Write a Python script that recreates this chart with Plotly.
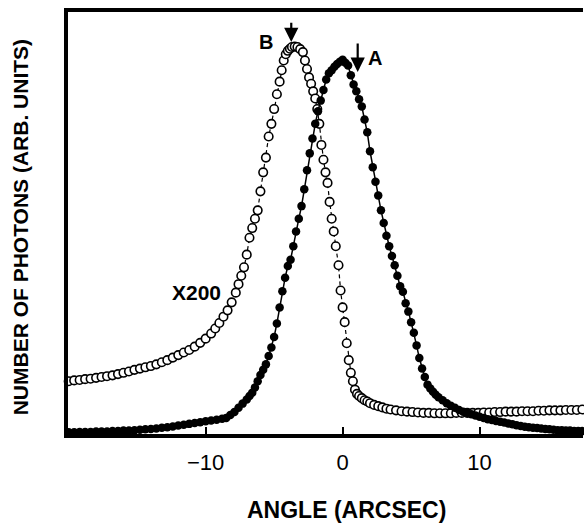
import plotly.graph_objects as go

# Curve B (open circles, dashed line, scaled X200)
b_x = [-20.0, -19.6, -19.2, -18.8, -18.4, -18.0, -17.6, -17.2, -16.8, -16.4, -16.0, -15.6, -15.2,
       -14.8, -14.4, -14.0, -13.6, -13.2, -12.8, -12.4, -12.0, -11.6, -11.2, -10.8, -10.4, -10.0,
       -9.6, -9.3, -9.0, -8.7, -8.4, -8.1, -7.8, -7.6, -7.4, -7.2, -7.0, -6.8, -6.6, -6.4, -6.2,
       -6.0, -5.8, -5.6, -5.4, -5.2, -5.0, -4.8, -4.6, -4.45, -4.3, -4.15, -4.0, -3.85, -3.7, -3.5,
       -3.3, -3.1, -2.9, -2.75, -2.6, -2.45, -2.3, -2.15, -2.0, -1.85, -1.7, -1.55, -1.4, -1.25,
       -1.1, -0.95, -0.8, -0.65, -0.5, -0.3, -0.15, 0.0, 0.15, 0.3, 0.45, 0.6, 0.75, 0.9, 1.05,
       1.2, 1.4, 1.6, 1.8, 2.0, 2.3, 2.6, 2.9, 3.2, 3.5, 3.9, 4.3, 4.7, 5.1, 5.5, 5.9, 6.3, 6.7,
       7.1, 7.5, 7.9, 8.3, 8.7, 9.1, 9.5, 9.9, 10.3, 10.7, 11.1, 11.5, 11.9, 12.3, 12.7, 13.1,
       13.5, 13.9, 14.3, 14.7, 15.1, 15.5, 15.9, 16.3, 16.7, 17.1, 17.5]
b_y = [0.125, 0.127, 0.128, 0.130, 0.131, 0.133, 0.135, 0.137, 0.139, 0.142, 0.145, 0.148, 0.152,
       0.155, 0.158, 0.161, 0.165, 0.170, 0.175, 0.181, 0.187, 0.193, 0.199, 0.207, 0.216, 0.226,
       0.238, 0.250, 0.263, 0.278, 0.293, 0.312, 0.335, 0.355, 0.375, 0.395, 0.425, 0.465, 0.488,
       0.510, 0.530, 0.575, 0.620, 0.655, 0.705, 0.735, 0.770, 0.805, 0.835, 0.862, 0.885, 0.900,
       0.908, 0.913, 0.917, 0.918, 0.917, 0.912, 0.905, 0.885, 0.865, 0.845, 0.830, 0.812, 0.795,
       0.770, 0.735, 0.685, 0.650, 0.620, 0.595, 0.550, 0.510, 0.480, 0.445, 0.400, 0.340, 0.300,
       0.265, 0.215, 0.175, 0.145, 0.125, 0.105, 0.095, 0.090, 0.085, 0.080, 0.077, 0.073, 0.069,
       0.066, 0.063, 0.060, 0.058, 0.056, 0.054, 0.053, 0.052, 0.051, 0.050, 0.050, 0.049, 0.049,
       0.049, 0.049, 0.050, 0.050, 0.050, 0.050, 0.050, 0.051, 0.051, 0.052, 0.052, 0.053, 0.053,
       0.053, 0.054, 0.054, 0.054, 0.055, 0.055, 0.056, 0.056, 0.056, 0.057, 0.057, 0.057, 0.058]

# Curve A (filled circles, solid line)
a_x = [-20.0, -19.6, -19.2, -18.8, -18.4, -18.0, -17.6, -17.2, -16.8, -16.4, -16.0, -15.6, -15.2,
       -14.8, -14.4, -14.0, -13.6, -13.2, -12.8, -12.4, -12.0, -11.6, -11.2, -10.8, -10.4, -10.0,
       -9.6, -9.2, -8.8, -8.5, -8.2, -7.9, -7.6, -7.3, -7.0, -6.8, -6.6, -6.4, -6.2, -6.0, -5.8,
       -5.6, -5.4, -5.2, -5.0, -4.8, -4.6, -4.4, -4.2, -4.0, -3.8, -3.6, -3.4, -3.2, -3.0, -2.8,
       -2.6, -2.4, -2.2, -2.0, -1.8, -1.6, -1.4, -1.2, -1.0, -0.8, -0.6, -0.4, -0.2, 0.0, 0.2, 0.4,
       0.6, 0.8, 1.0, 1.2, 1.4, 1.6, 1.8, 2.0, 2.2, 2.4, 2.6, 2.8, 3.0, 3.2, 3.4, 3.6, 3.8, 4.0,
       4.2, 4.4, 4.6, 4.8, 5.0, 5.2, 5.4, 5.6, 5.8, 6.0, 6.2, 6.4, 6.6, 6.8, 7.0, 7.3, 7.6, 7.9,
       8.2, 8.5, 8.8, 9.1, 9.4, 9.7, 10.0, 10.3, 10.6, 10.9, 11.2, 11.5, 11.8, 12.1, 12.4, 12.7,
       13.0, 13.3, 13.6, 13.9, 14.2, 14.5, 14.8, 15.1, 15.4, 15.7, 16.0, 16.3, 16.6, 16.9, 17.2, 17.5]
a_y = [0.004, 0.004, 0.005, 0.005, 0.005, 0.006, 0.006, 0.006, 0.007, 0.007, 0.008, 0.008, 0.009,
       0.010, 0.011, 0.012, 0.013, 0.015, 0.016, 0.018, 0.020, 0.022, 0.024, 0.026, 0.028, 0.030,
       0.032, 0.034, 0.036, 0.038, 0.045, 0.052, 0.062, 0.072, 0.082, 0.090, 0.098, 0.110, 0.125,
       0.140, 0.152, 0.165, 0.185, 0.205, 0.230, 0.262, 0.300, 0.338, 0.370, 0.398, 0.413, 0.445,
       0.480, 0.510, 0.540, 0.580, 0.625, 0.665, 0.700, 0.735, 0.765, 0.790, 0.815, 0.840, 0.855,
       0.862, 0.870, 0.877, 0.882, 0.887, 0.880, 0.873, 0.850, 0.828, 0.812, 0.793, 0.776, 0.745,
       0.715, 0.670, 0.632, 0.598, 0.565, 0.530, 0.500, 0.470, 0.445, 0.422, 0.400, 0.375, 0.350,
       0.337, 0.310, 0.290, 0.265, 0.240, 0.210, 0.180, 0.155, 0.135, 0.117, 0.108, 0.100, 0.093,
       0.087, 0.080, 0.073, 0.067, 0.062, 0.057, 0.053, 0.050, 0.047, 0.044, 0.041, 0.038, 0.035,
       0.033, 0.031, 0.029, 0.027, 0.025, 0.023, 0.021, 0.019, 0.017, 0.016, 0.015, 0.014, 0.013,
       0.012, 0.011, 0.010, 0.009, 0.009, 0.008, 0.008, 0.007, 0.007, 0.007]

x_ticks = [-10, 0, 10]
x_title = "ANGLE (ARCSEC)"
y_title = "NUMBER OF PHOTONS (ARB. UNITS)"

FONT = "Liberation Sans, Arial, sans-serif"

fig = go.Figure()
fig.add_trace(go.Scatter(
    x=b_x, y=b_y, mode="lines+markers", cliponaxis=False,
    line=dict(color="black", width=1.2, dash="4px,3px"),
    marker=dict(symbol="circle", size=8.5, color="white",
                line=dict(width=1.6, color="black")),
    showlegend=False))
fig.add_trace(go.Scatter(
    x=a_x, y=a_y, mode="lines+markers", cliponaxis=False,
    line=dict(color="black", width=1.5),
    marker=dict(symbol="circle", size=8.5, color="black"),
    showlegend=False))

fig.update_layout(
    width=584, height=524,
    margin=dict(l=68, r=1, t=12, b=90),
    paper_bgcolor="white", plot_bgcolor="white",
    font=dict(family=FONT, color="black"),
    xaxis=dict(range=[-20.05, 17.55], showgrid=False, zeroline=False,
               showline=True, linecolor="black", linewidth=3.5, mirror=True,
               ticks="inside", ticklen=7, tickwidth=2, tickcolor="black",
               tickvals=x_ticks, tickfont=dict(size=22, family=FONT),
               ticklabelstandoff=6),
    yaxis=dict(range=[0, 1], showgrid=False, zeroline=False,
               showline=True, linecolor="black", linewidth=3.5,
               showticklabels=False, ticks=""),
)

ann = [
    dict(text=f"<b>{x_title}</b>", x=0.54, y=-0.18, xref="paper", yref="paper",
         showarrow=False, font=dict(size=23, family=FONT), xanchor="center", yanchor="middle"),
    dict(text=f"<b>{y_title}</b>", x=-0.093, y=0.49, xref="paper", yref="paper",
         showarrow=False, textangle=-90, font=dict(size=21, family=FONT),
         xanchor="center", yanchor="middle"),
    dict(text="<b>X200</b>", x=-10.66, y=0.335, xref="x", yref="y", showarrow=False,
         font=dict(size=21, family=FONT)),
    dict(text="<b>B</b>", x=-5.6, y=0.929, xref="x", yref="y", showarrow=False,
         font=dict(size=20, family=FONT)),
    dict(text="<b>A</b>", x=2.34, y=0.892, xref="x", yref="y", showarrow=False,
         font=dict(size=20, family=FONT)),
    dict(text="", x=-3.75, y=0.929, ax=-3.75, ay=0.978, xref="x", yref="y",
         axref="x", ayref="y", showarrow=True, arrowhead=2, arrowwidth=2.2,
         arrowsize=1.3, arrowcolor="black", standoff=0),
    dict(text="", x=1.1, y=0.858, ax=1.1, ay=0.929, xref="x", yref="y",
         axref="x", ayref="y", showarrow=True, arrowhead=2, arrowwidth=2.2,
         arrowsize=1.3, arrowcolor="black", standoff=0),
]
fig.update_layout(annotations=ann)

fig.write_html("out.html", config={"displayModeBar": False},
               post_script="document.body.style.margin='0';document.body.style.padding='0';")
